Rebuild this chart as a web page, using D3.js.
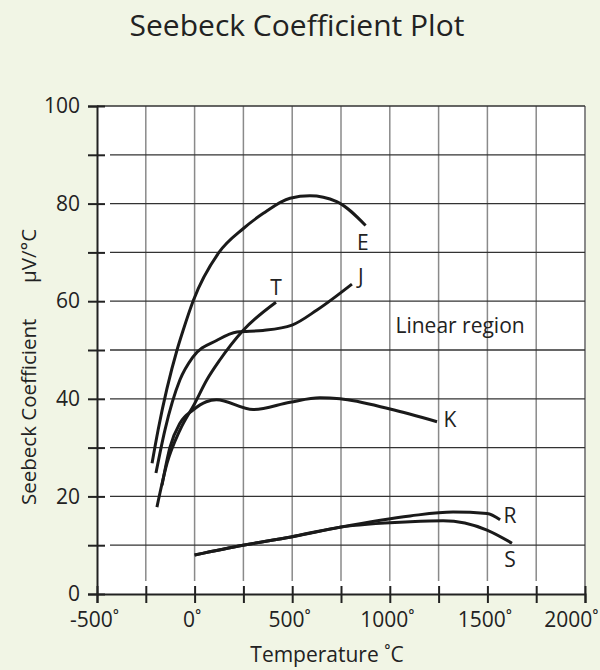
<!DOCTYPE html>
<html>
<head>
<meta charset="utf-8">
<script src="https://cdn.jsdelivr.net/npm/d3@7"></script>
<style>
  body { margin: 0; background: #f1f5e5; }
  svg { display: block; font-family: "Open Sans", sans-serif; }
</style>
</head>
<body>
<svg id="chart"></svg>
<script>
const width = 600;
const height = 670;

// curves: [temperature °C, µV/°C]
const curveE = [[-218, 26.8], [-187, 33.6], [-90, 50], [-59, 54], [-8, 60], [125, 70], [250, 74.9], [352, 78], [489, 81.1], [591, 81.6], [728, 80.4], [876, 75.5]];
const curveJ = [[-198, 24.8], [-152, 33.6], [-75, 43.9], [-10, 48.5], [115, 52], [217, 53.7], [350, 54], [499, 55.1], [627, 58.2], [806, 63.5]];
const curveT = [[-193, 17.8], [-141, 26.8], [-75, 33.6], [0, 39], [63, 43.9], [130, 48], [248, 54], [417, 59.8]];
const curveK = [[-167, 22.3], [-126, 30.1], [-75, 35], [-8, 37.7], [60, 39.4], [112, 39.8], [300, 37.8], [489, 39.3], [642, 40.2], [745, 40], [1001, 37.9], [1242, 35.3]];
const curveR = [[0, 8], [248, 10], [494, 11.7], [745, 13.7], [1104, 16.0], [1324, 16.8], [1498, 16.5], [1565, 15.2]];
const curveS = [[0, 8], [248, 10], [494, 11.7], [745, 13.7], [1104, 14.8], [1273, 15], [1498, 13.1], [1626, 10.4]];

// label text and where it sits (data coords, baseline)
const curveLabels = [
  {text: "E", t: 862, v: 70.5},
  {text: "J", t: 852, v: 63.5},
  {text: "T", t: 417, v: 61.3},
  {text: "K", t: 1308, v: 34.2},
  {text: "R", t: 1616, v: 14.5},
  {text: "S", t: 1616, v: 5.5}
];

const xTicks = d3.range(-500, 2001, 250);
const yTicks = d3.range(0, 101, 10);

const svg = d3.select("#chart")
  .attr("width", width)
  .attr("height", height);

const x = d3.scaleLinear().domain([-500, 2000]).range([97, 585]);
const y = d3.scaleLinear().domain([0, 100]).range([594, 106]);

// plot area
svg.append("rect")
  .attr("x", x(-500)).attr("y", y(100))
  .attr("width", x(2000) - x(-500)).attr("height", y(0) - y(100))
  .attr("fill", "#fff");

// vertical grid (gray)
svg.append("g")
  .selectAll("line")
  .data(xTicks.filter(d => d > -500))
  .join("line")
    .attr("x1", d => x(d)).attr("x2", d => x(d))
    .attr("y1", y(100)).attr("y2", d => d === 2000 ? y(0) : y(0) - 13)
    .attr("stroke", "#8a8a8a")
    .attr("stroke-width", d => d === 2000 ? 2 : 1.5);

// horizontal grid (dark)
svg.append("g")
  .selectAll("line")
  .data(yTicks.filter(d => d > 0))
  .join("line")
    .attr("x1", d => d === 100 ? x(-500) : x(-500) + 13)
    .attr("x2", x(2000))
    .attr("y1", d => y(d)).attr("y2", d => y(d))
    .attr("stroke", "#333")
    .attr("stroke-width", 1.3);

// axes
const xAxis = svg.append("g")
  .attr("transform", `translate(0,${y(0)})`)
  .call(d3.axisBottom(x)
    .tickValues(xTicks)
    .tickSize(9)
    .tickPadding(9)
    .tickFormat(d => d % 500 === 0 ? d + "˚" : ""));

const yAxis = svg.append("g")
  .attr("transform", `translate(${x(-500)},0)`)
  .call(d3.axisLeft(y)
    .tickValues(yTicks)
    .tickSize(9)
    .tickPadding(8)
    .tickFormat(d => d % 20 === 0 ? d : ""));

xAxis.select(".domain").attr("stroke", "#222").attr("stroke-width", 2);
yAxis.select(".domain").attr("stroke", "#222").attr("stroke-width", 2);
xAxis.selectAll(".tick line").attr("y1", -8).attr("stroke", "#222").attr("stroke-width", 2);
yAxis.selectAll(".tick line").attr("x1", 8).attr("stroke", "#222").attr("stroke-width", 2);
xAxis.selectAll(".tick text")
  .attr("font-size", 21).attr("fill", "#222").attr("font-family", "Open Sans, sans-serif")
  .attr("dx", -3);
// last label is pulled in so it stays inside the page
xAxis.selectAll(".tick text").filter(d => d === 2000)
  .attr("text-anchor", "end").attr("dx", 13);
yAxis.selectAll(".tick text")
  .attr("font-size", 21).attr("fill", "#222").attr("font-family", "Open Sans, sans-serif");

// curves
const line = d3.line()
  .x(d => x(d[0]))
  .y(d => y(d[1]))
  .curve(d3.curveMonotoneX);

svg.append("g")
  .attr("fill", "none")
  .attr("stroke", "#1a1a1a")
  .attr("stroke-width", 3)
  .selectAll("path")
  .data([curveE, curveJ, curveT, curveK, curveR, curveS])
  .join("path")
    .attr("d", line);

svg.append("g")
  .selectAll("text")
  .data(curveLabels)
  .join("text")
    .attr("x", d => x(d.t))
    .attr("y", d => y(d.v))
    .attr("font-size", 21)
    .attr("fill", "#222")
    .attr("text-anchor", "middle")
    .text(d => d.text);

svg.append("text")
  .attr("x", x(1360)).attr("y", y(53.5))
  .attr("font-size", 21).attr("fill", "#222")
  .attr("text-anchor", "middle")
  .text("Linear region");

// titles
svg.append("text")
  .attr("x", 297).attr("y", 36)
  .attr("font-size", 30).attr("fill", "#222")
  .attr("text-anchor", "middle")
  .text("Seebeck Coefficient Plot");

svg.append("text")
  .attr("x", 327).attr("y", 662)
  .attr("font-size", 21).attr("fill", "#222")
  .attr("text-anchor", "middle")
  .text("Temperature ˚C");

svg.append("text")
  .attr("transform", "translate(36,505) rotate(-90)")
  .attr("font-size", 20.5).attr("fill", "#222")
  .text("Seebeck Coefficient");

svg.append("text")
  .attr("transform", "translate(36,283) rotate(-90)")
  .attr("font-size", 20.5).attr("fill", "#222")
  .text("μV/°C");
</script>
</body>
</html>
